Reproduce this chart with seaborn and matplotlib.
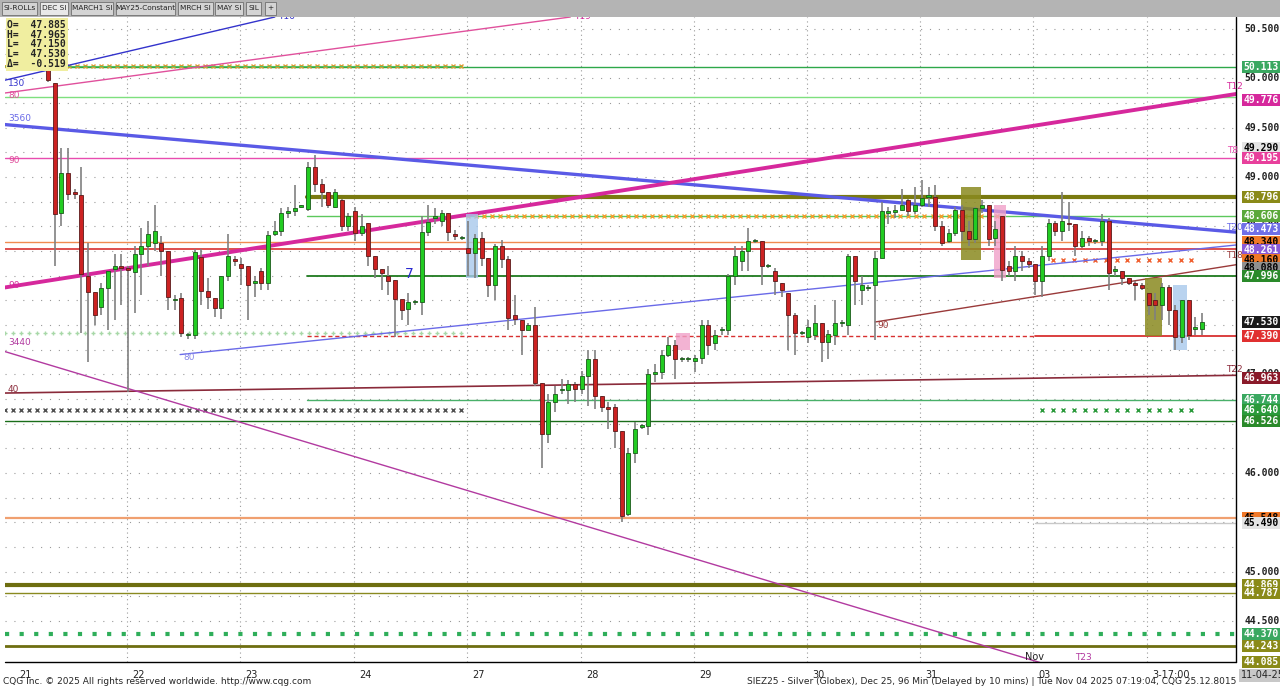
import numpy as np
import pandas as pd
import seaborn as sns
import matplotlib
matplotlib.use("Agg")
import matplotlib.pyplot as plt
from matplotlib.patches import Rectangle

# ---------------- data ----------------
opens = [50.27,49.95,48.63,49.04,48.85,48.82,48.00,47.83,47.68,47.87,48.07,48.10,48.07,48.04,48.22,48.30,48.33,48.33,48.25,47.75,
         47.77,47.40,47.40,48.19,47.84,47.77,47.67,48.00,48.17,48.12,48.10,47.92,48.05,47.93,48.42,48.45,48.63,48.65,48.70,48.67,
         49.10,48.93,48.85,48.70,48.77,48.50,48.65,48.43,48.53,48.20,48.07,48.00,47.96,47.76,47.66,47.73,47.73,48.44,48.58,48.55,
         48.63,48.42,48.38,48.28,48.23,48.38,48.18,47.90,48.30,48.17,47.60,47.55,47.45,47.50,46.91,46.40,46.72,46.84,46.84,46.90,
         46.85,46.98,47.15,46.78,46.67,46.67,46.43,45.58,46.20,46.47,46.48,47.00,47.02,47.20,47.30,47.15,47.15,47.13,47.16,47.50,
         47.32,47.45,47.45,48.00,48.15,48.25,48.35,48.35,48.10,48.05,47.92,47.82,47.60,47.42,47.38,47.40,47.52,47.33,47.40,47.52,
         47.50,48.20,47.85,47.87,47.90,48.18,48.63,48.64,48.66,48.77,48.65,48.72,48.80,48.80,48.50,48.35,48.43,48.66,48.45,48.37,
         48.68,48.72,48.38,48.60,48.10,48.05,48.20,48.15,48.12,47.95,48.20,48.53,48.45,48.53,48.52,48.30,48.38,48.35,48.35,48.55,
         48.05,48.05,47.98,47.93,47.90,47.82,47.75,47.70,47.88,47.65,47.38,47.75,47.46,47.46]
closes = [49.98,48.62,49.04,48.83,48.83,48.02,47.83,47.60,47.87,48.05,48.10,48.08,48.06,48.22,48.30,48.42,48.45,48.25,47.78,47.75,
          47.42,47.40,48.24,47.84,47.78,47.67,48.00,48.20,48.15,48.08,47.90,47.95,47.93,48.41,48.45,48.63,48.65,48.68,48.70,49.10,
          48.93,48.85,48.72,48.85,48.50,48.60,48.43,48.50,48.20,48.07,48.03,47.95,47.76,47.65,47.73,47.73,48.44,48.54,48.60,48.63,
          48.44,48.40,48.38,48.23,48.38,48.18,47.90,48.30,48.17,47.57,47.56,47.45,47.50,46.91,46.40,46.72,46.80,46.84,46.90,46.85,
          46.98,47.15,46.78,46.67,46.65,46.43,45.56,46.20,46.45,46.48,47.00,47.02,47.20,47.30,47.15,47.15,47.15,47.16,47.50,47.30,
          47.40,47.45,48.00,48.20,48.25,48.35,48.35,48.10,48.10,47.95,47.85,47.60,47.42,47.42,47.48,47.52,47.33,47.41,47.52,47.52,
          48.20,47.95,47.90,47.87,48.18,48.65,48.65,48.66,48.72,48.65,48.72,48.79,48.80,48.50,48.33,48.43,48.66,48.45,48.37,48.68,
          48.72,48.37,48.47,48.06,48.05,48.20,48.15,48.12,47.95,48.20,48.53,48.45,48.55,48.52,48.30,48.38,48.35,48.35,48.55,48.03,
          48.05,47.98,47.93,47.90,47.87,47.70,47.70,47.88,47.65,47.38,47.75,47.40,47.48,47.53]
highs = [50.30,49.95,49.29,49.29,48.88,49.10,48.33,47.83,47.92,48.05,48.22,48.22,48.10,48.30,48.48,48.55,48.72,48.40,48.25,47.80,
         47.82,47.42,48.27,48.27,47.98,47.77,48.00,48.42,48.20,48.18,48.10,48.00,48.08,48.45,48.55,48.68,48.70,48.92,48.72,49.15,
         49.22,48.98,48.85,48.88,48.78,48.63,48.70,48.62,48.53,48.20,48.07,48.10,47.96,47.72,47.82,47.75,48.60,48.72,48.68,48.66,
         48.63,48.46,48.40,48.55,48.42,48.44,48.18,48.32,48.36,48.20,47.80,47.55,47.52,47.68,46.91,46.80,46.88,46.95,46.94,46.92,
         47.03,47.25,47.25,46.78,46.72,46.70,46.43,46.25,46.52,46.50,47.05,47.10,47.25,47.38,47.35,47.18,47.18,47.20,47.55,47.55,
         47.45,47.48,48.02,48.30,48.30,48.48,48.37,48.35,48.12,48.08,47.92,47.82,47.62,47.44,47.55,47.70,47.52,47.45,47.75,47.55,
         48.22,48.20,48.00,47.90,48.25,48.75,48.70,48.72,48.88,48.78,48.90,48.97,48.90,48.92,48.55,48.47,48.70,48.72,48.55,48.70,
         48.77,48.72,48.55,48.60,48.15,48.30,48.25,48.18,48.12,48.30,48.57,48.55,48.85,48.75,48.52,48.45,48.40,48.37,48.62,48.58,
         48.10,48.05,47.98,47.95,47.92,47.82,47.82,47.92,47.90,47.70,47.75,47.75,47.58,47.62]
lows = [49.96,48.10,48.50,48.77,48.78,47.42,47.12,47.50,47.60,47.45,47.55,47.70,46.82,47.62,47.80,48.10,48.25,48.00,47.65,47.65,
        47.38,47.36,47.36,47.70,47.66,47.58,47.56,47.95,48.10,47.90,47.55,47.78,47.85,47.85,48.40,48.40,48.58,48.60,48.68,48.65,
        48.85,48.70,48.68,48.68,48.45,48.45,48.35,48.40,48.10,47.98,47.85,47.80,47.38,47.55,47.50,47.70,47.60,48.40,48.52,48.50,
        48.35,48.36,48.36,48.00,47.98,48.10,47.78,47.75,48.08,47.45,47.50,47.20,47.45,46.88,46.05,46.30,46.62,46.80,46.70,46.72,
        46.80,46.68,46.65,46.62,46.45,46.25,45.50,45.56,46.10,46.45,46.38,46.92,46.95,47.18,46.95,47.12,47.12,47.02,47.10,47.20,
        47.25,47.40,47.40,47.90,48.05,48.05,48.33,47.90,48.08,47.80,47.78,47.25,47.20,47.40,47.32,47.35,47.12,47.15,47.30,47.48,
        47.40,47.70,47.70,47.84,47.35,48.18,48.52,48.58,48.65,48.60,48.62,48.70,48.70,48.45,48.30,48.33,48.40,48.35,48.30,48.33,
        48.63,48.30,48.30,47.95,48.00,47.95,48.05,48.08,47.80,47.78,48.15,48.40,48.35,48.45,48.20,48.28,48.30,48.32,48.30,47.85,
        48.00,47.90,47.90,47.75,47.85,47.60,47.55,47.55,47.50,47.25,47.32,47.35,47.40,47.40]

day_labels = ["21", "22", "23", "24", "27", "28", "29", "30", "31", "03", "3-17:00"]
day_starts = [-5.1, 11.8, 28.8, 45.9, 62.8, 79.9, 96.9, 113.8, 130.7, 147.7, 164.8]

# trend lines: (x0, x1, y0, y1, color, width)
trend_x0 = [-6.45, -6.45, -6.45, -6.45, 19.8, 124.0, -6.45, -6.45]
trend_x1 = [178.1, 178.1, 34.0, 78.3, 178.1, 178.1, 178.1, 148.7]
trend_y0 = [49.53, 47.88, 49.98, 49.85, 47.20, 47.53, 46.81, 47.23]
trend_y1 = [48.44, 49.84, 50.62, 50.62, 48.31, 48.11, 46.99, 44.08]
trend_col = ["#5a5ae6", "#d6289c", "#3333cc", "#e0509c", "#6a6ae8", "#9a3a3a", "#8a2a3a", "#b23aa0"]
trend_lw = [2.4, 2.8, 1.0, 1.0, 1.0, 1.0, 1.2, 1.0]

# horizontal levels: price, start, color, width
lvl_price = [50.113, 49.81, 49.195, 48.796, 48.606, 48.34, 48.27, 47.996, 47.39, 46.744, 46.526, 45.548, 45.49, 44.869, 44.787, 44.243]
lvl_start = [-6.45, -6.45, -6.45, 38.8, 38.8, -6.45, -6.45, 38.8, 148.0, 38.8, -6.45, -6.45, 148.0, -6.45, -6.45, -6.45]
lvl_color = ["#2ea84a", "#7ee07e", "#e84caf", "#7a7a10", "#5cc85c", "#f08a50", "#d83030", "#1f7a1f", "#d83030", "#49b06a",
             "#1a6e1a", "#f0a070", "#c8c8c8", "#6e6e10", "#8a8a20", "#6e6e10"]
lvl_lw = [1.0, 1.0, 1.0, 3.0, 1.0, 1.0, 1.2, 1.3, 1.3, 1.0, 1.0, 1.6, 1.0, 3.0, 1.0, 2.0]

# right-axis colored labels
tag_value = ["50.113", "49.776", "49.290", "49.195", "48.796", "48.606", "48.473", "48.340", "48.261", "48.160", "48.080",
             "47.996", "47.530", "47.390", "46.963", "46.744", "46.640", "46.526", "45.548", "45.490", "44.869", "44.787",
             "44.370", "44.243", "44.085"]
tag_face = ["#3aa860", "#d6289c", "#e4e4e4", "#e8409c", "#8a8a18", "#5aa83a", "#7070e8", "#f07828", "#8a5ad8", "#f07828",
            "#909090", "#2a8a2a", "#1a1a1a", "#e03030", "#8a1a2a", "#3aa860", "#2a9a3a", "#2a8a2a", "#f07828", "#e4e4e4",
            "#8a8a18", "#8a8a18", "#3aa860", "#8a8a18", "#8a8a18"]
tag_text = ["white", "white", "black", "white", "white", "white", "white", "black", "white", "black", "black", "white",
            "white", "white", "white", "white", "white", "white", "black", "black", "white", "white", "white", "white", "white"]

# ---------------- plot ----------------
sns.set_theme(style="white")
plt.rcParams['font.family'] = ['DejaVu Sans']
fig = plt.figure(figsize=(12.8, 6.89), dpi=100)
fig.patch.set_facecolor("white")
ax = fig.add_axes([5/1280, 27/689, 1231/1280, 645/689])
ax.set_facecolor("white")
ymin, ymax = 44.085, 50.62
xmin, xmax = -6.45, 178.1
ax.set_xlim(xmin, xmax)
ax.set_ylim(ymin, ymax)

for p in np.arange(44.25, 50.6, 0.25):
    ax.axhline(p, color="#9a9a9a", lw=0.8, ls=(0, (1, 7)), zorder=0)
for d in day_starts[1:]:
    ax.axvline(d, color="#9a9a9a", lw=0.8, ls=(0, (1, 3)), zorder=0)

for p, s, c, w in zip(lvl_price, lvl_start, lvl_color, lvl_lw):
    ax.plot([s, xmax], [p, p], color=c, lw=w, zorder=1)
ax.plot([38.8, 148], [47.39, 47.39], color="#d83030", lw=1.0, ls=(0, (3, 2)), zorder=1)
ax.plot([xmin, xmax], [44.37, 44.37], color="#2fae5a", lw=3, ls=(0, (1, 2.5)), zorder=1)
xs = np.arange(xmin, 63, 1.2)
ax.plot(xs, np.full_like(xs, 50.12), ls="none", marker="x", ms=3, color="#e09a30", mew=1, zorder=1)
ax.plot(xs, np.full_like(xs, 50.12), ls="-", color="#5cbf5c", lw=0.8, zorder=1)
ax.plot(xs, np.full_like(xs, 46.64), ls="none", marker="x", ms=3, color="#505050", mew=1, zorder=1)
ax.plot(xs, np.full_like(xs, 47.42), ls="none", marker="+", ms=3, color="#a8d8a8", mew=1, zorder=1)
xs2 = np.arange(63, 143, 1.2)
ax.plot(xs2, np.full_like(xs2, 48.60), ls="none", marker="x", ms=3, color="#f0a030", mew=1, zorder=1)
xs3 = np.arange(149, 173, 1.6)
ax.plot(xs3, np.full_like(xs3, 48.16), ls="none", marker="x", ms=3, color="#f06030", mew=1, zorder=1)
ax.plot(xs3, np.full_like(xs3, 46.64), ls="none", marker="x", ms=3, color="#2a9a3a", mew=1, zorder=1)

for x0, x1, y0, y1, c, w in zip(trend_x0, trend_x1, trend_y0, trend_y1, trend_col, trend_lw):
    df = pd.DataFrame({"x": [x0, x1], "y": [y0, y1]})
    sns.lineplot(data=df, x="x", y="y", color=c, lw=w, ax=ax, zorder=2)

boxes = [(136.8, 139.8, 48.16, 48.9, "#8a8a20", 0.85), (164.4, 167.0, 47.39, 47.98, "#8a8a20", 0.85),
         (141.8, 143.6, 47.98, 48.72, "#f0a0c8", 0.8), (168.6, 170.8, 47.25, 47.9, "#a8c8ec", 0.8),
         (62.6, 64.4, 47.98, 48.62, "#a8c8ec", 0.8), (94.2, 96.2, 47.25, 47.42, "#f0a0c8", 0.8)]
for a, b, lo, hi, c, al in boxes:
    ax.add_patch(Rectangle((a, lo), b - a, hi - lo, color=c, alpha=al, zorder=2, lw=0))

idx = np.arange(len(closes))
o = np.array(opens); c = np.array(closes); h = np.array(highs); l = np.array(lows)
up = c >= o
ax.vlines(idx, l, h, color="#808080", lw=1.2, zorder=3)
body_lo = np.minimum(o, c); body_h = np.maximum(np.abs(c - o), 0.012)
ax.bar(idx[up], body_h[up], bottom=body_lo[up], width=0.6, color="#22cc22", edgecolor="#1a5a1a", lw=0.6, zorder=4)
ax.bar(idx[~up], body_h[~up], bottom=body_lo[~up], width=0.6, color="#cc2222", edgecolor="#5a1a1a", lw=0.6, zorder=4)

for s in ["top", "right", "left", "bottom"]:
    ax.spines[s].set_visible(False)
ax.plot([1, 1], [0, 1], transform=ax.transAxes, color="black", lw=1.0, clip_on=False)
ax.plot([0, 1], [0, 0], transform=ax.transAxes, color="black", lw=1.0, clip_on=False)
ax.set_xticks([]); ax.set_yticks([])
ax.set_xlabel(""); ax.set_ylabel("")

for p in np.arange(44.5, 50.51, 0.5):
    ax.text(1.007, p, f"{p:.3f}", transform=ax.get_yaxis_transform(), va="center", ha="left",
            fontsize=7, color="#222222", family="DejaVu Sans Mono", fontweight="bold")
for v, fc, tc in zip(tag_value, tag_face, tag_text):
    ax.text(1.006, float(v), v, transform=ax.get_yaxis_transform(), va="center", ha="left", fontsize=7,
            color=tc, family="DejaVu Sans Mono", fontweight="bold",
            bbox=dict(boxstyle="square,pad=0.1", fc=fc, ec="none"), zorder=6, clip_on=False)

for lab, d in zip(day_labels, day_starts):
    ax.text(d + 0.8, -0.013, lab, transform=ax.get_xaxis_transform(), ha="left", va="top", fontsize=7, color="#222222")
ax.text(1.004, -0.013, "11-04-25", transform=ax.transAxes, ha="left", va="top", fontsize=7,
        bbox=dict(boxstyle="square,pad=0.15", fc="#c8c8c8", ec="none"))
ax.text(146.5, 44.09, "Nov", fontsize=7, color="#222222", va="bottom")

lab_specs = [(34.5, 50.58, "T16", "#3333cc"), (78.8, 50.58, "T19", "#d6289c"), (-6.0, 49.9, "130", "#3333cc"),
             (-6.0, 49.78, "80", "#e0509c"), (-6.0, 49.55, "3560", "#6a6ae8"), (-6.0, 49.12, "90", "#e0509c"),
             (-6.0, 47.85, "90", "#d6289c"), (-6.0, 47.28, "3440", "#b23aa0"), (-6.0, 46.8, "40", "#8a2a3a"),
             (20.3, 47.12, "80", "#8a8ae8"), (124.3, 47.45, "90", "#9a3a3a"), (176.6, 49.87, "T12", "#d6289c"),
             (176.8, 49.22, "T8", "#e84caf"), (176.6, 48.44, "T20", "#6a6ae8"), (176.6, 48.16, "T18", "#9a3a3a"),
             (176.6, 47.0, "T22", "#8a2a3a"), (154.0, 44.09, "T23", "#b23aa0")]
for x, y, t, col in lab_specs:
    ax.text(x, y, t, fontsize=6.5, color=col, va="bottom")
ax.text(53.5, 47.95, "7", fontsize=10, color="#2a2ad0", va="bottom")

ax.text(0.002, 0.995, "O=  47.885\nH=  47.965\nL=  47.150\nL=  47.530\nΔ=  -0.519", transform=ax.transAxes,
        ha="left", va="top", fontsize=7, family="DejaVu Sans Mono", fontweight="bold", linespacing=0.95,
        bbox=dict(boxstyle="square,pad=0.2", fc="#f0eea0", ec="none"), zorder=7)

fig.patches.append(Rectangle((0, 672/689), 1, 17/689, transform=fig.transFigure, fc="#b4b4b4", ec="none"))
tabs = ["SI-ROLLs", "DEC SI", "MARCH1 SI", "MAY25-Constant", "MRCH SI", "MAY SI", "SIL", "+"]
tab_x = [2, 40, 71, 116, 178, 215, 246, 265]
tab_w = [35, 28, 42, 59, 35, 28, 15, 11]
for t, x, w in zip(tabs, tab_x, tab_w):
    sel = t == "DEC SI"
    fig.patches.append(Rectangle((x/1280, 674/689), w/1280, 13/689, transform=fig.transFigure,
                                 fc="#e8e8e8" if sel else "#d4d4d4", ec="#707070", lw=0.6))
    fig.text((x + w/2)/1280, 680.5/689, t, ha="center", va="center", fontsize=5.3, color="#222222")

fig.text(3/1280, 3/689, "CQG Inc. © 2025 All rights reserved worldwide. http://www.cqg.com", fontsize=6.5, va="bottom")
fig.text(1236/1280, 3/689, "SIEZ25 - Silver (Globex), Dec 25, 96 Min (Delayed by 10 mins) | Tue Nov 04 2025 07:19:04, CQG 25.12.8015",
         fontsize=6.5, va="bottom", ha="right")

fig.savefig("out.png", dpi=100)
